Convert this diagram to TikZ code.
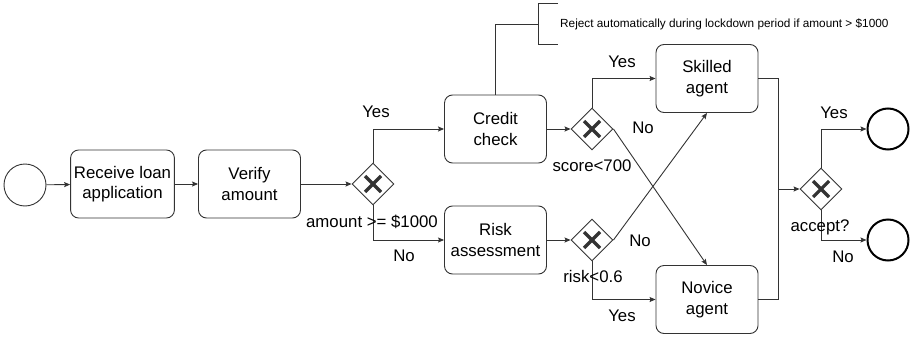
\documentclass[tikz,border=0pt]{standalone}
\usepackage{fontspec}
\setmainfont{Liberation Sans}
\usetikzlibrary{arrows.meta,shapes.geometric}
\begin{document}
\begin{tikzpicture}[x=1pt,y=-1pt,
    flow/.style={draw=black!80,line width=0.9pt,-{Stealth[length=6pt,width=5pt,inset=1pt]}},
    box/.style={draw=black!80,line width=0.9pt,rounded corners=8pt,minimum width=102pt,minimum height=68pt,align=center,font=\fontsize{16.8}{20.5}\selectfont},
    gate/.style={diamond,draw=black!80,line width=0.9pt,minimum width=42pt,minimum height=42pt,inner sep=0pt,
      path picture={\draw[line width=3.2pt] ([shift={(-8pt,-8pt)}]path picture bounding box.center) -- ([shift={(8pt,8pt)}]path picture bounding box.center);
        \draw[line width=3.2pt] ([shift={(-8pt,8pt)}]path picture bounding box.center) -- ([shift={(8pt,-8pt)}]path picture bounding box.center);}},
    startev/.style={circle,draw=black!80,line width=0.9pt,minimum size=42pt,inner sep=0pt},
    endev/.style={circle,draw=black,line width=2pt,minimum size=41pt,inner sep=0pt},
    lbl/.style={font=\fontsize{16.8}{20}\selectfont,inner sep=0pt}]
    \useasboundingbox (0,0) rectangle (912,337);
    \node[startev] (start) at (25,185) {};
    \node[box] (recv) at (122.5,184) {Receive loan\\application};
    \node[box] (verify) at (249.5,184) {Verify\\amount};
    \node[gate] (amountgw) at (373,184) {};
    \node[box] (credit) at (495.5,129) {Credit\\check};
    \node[box] (risk) at (495.5,240) {Risk\\assessment};
    \node[gate] (scoregw) at (592,129) {};
    \node[gate] (riskgw) at (592,240) {};
    \node[box] (skilled) at (707,78.5) {Skilled\\agent};
    \node[box] (novice) at (707,299.5) {Novice\\agent};
    \node[gate] (acceptgw) at (821,189) {};
    \node[endev] (endyes) at (888,129) {};
    \node[endev] (endno) at (888,240) {};
    \coordinate (merge) at (778,189);
    \node[anchor=west,inner sep=0pt,font=\fontsize{11.8}{14}\selectfont] (note) at (560,24) {Reject automatically during lockdown period if amount > \$1000};
    \coordinate (brk) at (538,24);
    \draw[flow] (start) -- (recv);
    \draw[flow] (recv) -- (verify);
    \draw[flow] (verify) -- (amountgw);
    \draw[flow] (amountgw.north) |- (credit.west);
    \draw[flow] (amountgw.south) |- (risk.west);
    \draw[flow] (credit) -- (scoregw);
    \draw[flow] (risk) -- (riskgw);
    \draw[flow] (scoregw.north) |- (skilled.west);
    \draw[flow] (scoregw.east) -- (novice.north);
    \draw[flow] (riskgw.east) -- (skilled.south);
    \draw[flow] (riskgw.south) |- (novice.west);
    \draw[draw=black!80,line width=0.9pt] (skilled.east) -| (merge) |- (novice.east);
    \draw[flow] (merge) -- (acceptgw);
    \draw[flow] (acceptgw.north) |- (endyes.west);
    \draw[flow] (acceptgw.south) |- (endno.west);
    \draw[draw=black!80,line width=0.9pt] (credit.north) |- (brk);
    \draw[draw=black!80,line width=0.9pt] (558,3) -- (538,3) -- (538,44) -- (558,44);
    \node[lbl] (yes1) at (376,112) {Yes};
    \node[lbl] (no1) at (404,256) {No};
    \node[lbl] (cond1) at (372,222) {amount >= \$1000};
    \node[lbl] (yes2) at (622,62) {Yes};
    \node[lbl] (no2) at (643,128) {No};
    \node[lbl] (cond2) at (592,166) {score<700};
    \node[lbl] (no3) at (640,241) {No};
    \node[lbl] (cond3) at (593,276) {risk<0.6};
    \node[lbl] (yes3) at (622,316) {Yes};
    \node[lbl] (yes4) at (834,113) {Yes};
    \node[lbl] (cond4) at (820,227) {accept?};
    \node[lbl] (no4) at (843,257) {No};
\end{tikzpicture}
\end{document}
